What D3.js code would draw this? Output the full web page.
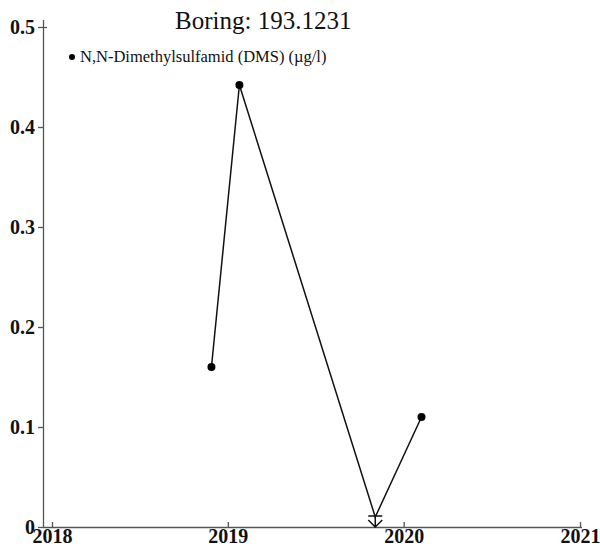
<!DOCTYPE html>
<html lang="en">
<head>
    <meta charset="UTF-8">
    <title>Boring: 193.1231</title>
    <script src="https://cdn.jsdelivr.net/npm/d3@7/dist/d3.min.js"></script>
    <style>
        body { margin: 0; background: #fff; overflow: hidden; }
        svg { display: block; }
        text { font-family: "Liberation Serif", "Times New Roman", serif; }
    </style>
</head>
<body>
    <svg width="600" height="549"></svg>
    <script>
        // data
        var dates = ['2018-11-28', '2019-01-25', '2019-11-03', '2020-02-07'];
        var values = [0.16, 0.442, 0.01, 0.11];
        var belowLimit = [false, false, true, false]; // "<" measurement
        var yTicks = [0, 0.1, 0.2, 0.3, 0.4, 0.5];
        var xTicks = ['2018', '2019', '2020', '2021'];
        var title = 'Boring: 193.1231';
        var seriesName = 'N,N-Dimethylsulfamid (DMS) (µg/l)';

        var svg = d3.select('svg');
        var parse = d3.timeParse('%Y-%m-%d');
        var data = dates.map(function (d, i) {
            return { date: parse(d), value: values[i], below: belowLimit[i] };
        });

        var x = d3.scaleTime()
            .domain([new Date(2018, 0, 1), new Date(2021, 0, 1)])
            .range([52, 580]);
        var y = d3.scaleLinear()
            .domain([0, 0.5])
            .range([527, 27]);

        // axes
        var xAxis = d3.axisBottom(x)
            .tickValues(xTicks.map(function (t) { return new Date(+t, 0, 1); }))
            .tickFormat(d3.timeFormat('%Y'))
            .tickSizeInner(-5).tickSizeOuter(0).tickPadding(2);
        var gx = svg.append('g').attr('transform', 'translate(0,527)').call(xAxis);
        gx.select('.domain').attr('d', 'M43,0.5H582');

        var yAxis = d3.axisLeft(y)
            .tickValues(yTicks)
            .tickFormat(function (d) { return d === 0 ? '0' : d3.format('.1f')(d); })
            .tickSizeInner(5).tickSizeOuter(0).tickPadding(3);
        var gy = svg.append('g').attr('transform', 'translate(43,0)').call(yAxis);
        gy.select('.domain').attr('d', 'M0.5,20V527');
        // the top tick crosses the axis
        gy.selectAll('.tick line').filter(function (d) { return d === 0.5; }).attr('x1', 4);

        svg.selectAll('.domain, .tick line').attr('stroke', '#555').attr('stroke-width', 1.3);
        svg.selectAll('.tick text')
            .attr('fill', '#111')
            .style('font-size', '20px')
            .style('font-weight', 'bold')
            .style('font-family', '"Liberation Serif", serif');
        gx.selectAll('.tick text').attr('dy', '0.7em');

        // line
        var line = d3.line()
            .x(function (d) { return x(d.date); })
            .y(function (d) { return y(d.value); });
        svg.append('path').datum(data)
            .attr('d', line)
            .attr('fill', 'none')
            .attr('stroke', '#111')
            .attr('stroke-width', 1.5);

        // normal points
        svg.selectAll('circle.pt').data(data.filter(function (d) { return !d.below; }))
            .enter().append('circle')
            .attr('class', 'pt')
            .attr('cx', function (d) { return x(d.date); })
            .attr('cy', function (d) { return y(d.value); })
            .attr('r', 4)
            .attr('fill', '#000');

        // below detection limit symbol: bar + arrow down to zero
        var lim = svg.selectAll('g.lim').data(data.filter(function (d) { return d.below; }))
            .enter().append('g').attr('class', 'lim')
            .attr('transform', function (d) { return 'translate(' + x(d.date) + ',' + y(d.value) + ')'; });
        lim.append('path')
            .attr('d', function (d) {
                var h = y(0) - y(d.value);
                return 'M-7,-1H7M0,-1V' + h + 'M-7,' + (h - 7) + 'L0,' + h + 'L7,' + (h - 7);
            })
            .attr('fill', 'none')
            .attr('stroke', '#111')
            .attr('stroke-width', 1.5);

        // title and legend
        svg.append('text')
            .attr('x', 175).attr('y', 29)
            .style('font-size', '25px')
            .attr('fill', '#111')
            .text(title);
        svg.append('circle').attr('cx', 72).attr('cy', 57).attr('r', 3).attr('fill', '#000');
        svg.append('text')
            .attr('x', 80).attr('y', 62)
            .style('font-size', '16.5px')
            .attr('fill', '#111')
            .text(seriesName);
    </script>
</body>
</html>
